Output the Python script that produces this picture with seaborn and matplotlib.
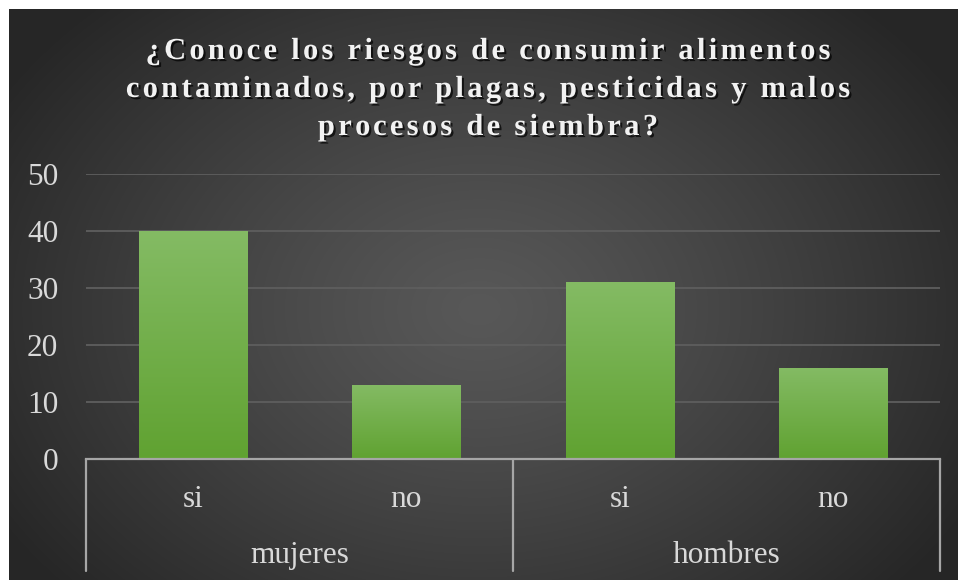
import numpy as np
import pandas as pd
import matplotlib
matplotlib.use("Agg")
import matplotlib.pyplot as plt
import matplotlib.transforms as mtransforms
import matplotlib.patheffects as pe
import seaborn as sns

# ---- data ----
groups = ["mujeres", "hombres"]
answers = ["si", "no"]
values = [40, 13, 31, 16]
yticks = [0, 10, 20, 30, 40, 50]
title_lines = ["¿Conoce los riesgos de consumir alimentos",
               "contaminados, por plagas, pesticidas y malos",
               "procesos de siembra?"]

keys = [f"{g}|{a}" for g in groups for a in answers]
df = pd.DataFrame({"key": keys, "value": values})

W, H = 958, 580
sns.set_theme(style="dark")
plt.rcParams["font.family"] = ["Liberation Serif", "DejaVu Serif"]

fig = plt.figure(figsize=(W / 100, H / 100), dpi=100)
fig.patch.set_facecolor("white")

# background radial gradient
bg = fig.add_axes([9 / W, 0, 1 - 9 / W, 1 - 9 / H])
bg.set_axis_off()
yy, xx = np.mgrid[0:571, 0:949]
cx, cy = 470, 300
r = np.sqrt(((xx - cx) / 560) ** 2 + ((yy - cy) / 420) ** 2)
r = np.clip(r, 0, 1)
c0, c1 = 0.345, 0.150
val = c0 + (c1 - c0) * r ** 1.2
img = np.dstack([val, val, val])
bg.imshow(img, aspect="auto", extent=(0, 1, 0, 1), origin="upper")
bg.set_xlim(0, 1)
bg.set_ylim(0, 1)

# main axes
left, right = 86, 940
y0px, y50px = 459, 174
ax = fig.add_axes([left / W, (H - y0px) / H, (right - left) / W, (y0px - y50px) / H])
ax.patch.set_alpha(0)

sns.barplot(data=df, x="key", y="value", ax=ax, color="#6aaa45", saturation=1,
            width=0.506, zorder=3)
ax.set_xlim(-0.5, 3.5)
ax.set_ylim(0, 50)
ax.set_yticks(yticks)
ax.set_yticklabels([str(t) for t in yticks], fontsize=22.5, color="#d9d9d9")
ax.tick_params(axis="y", length=0, pad=20)
ax.set_xticks(range(len(keys)))
ax.set_xticklabels([])
ax.tick_params(axis="x", length=0)
ax.set_xlabel("")
ax.set_ylabel("")
for s in ["top", "right", "left"]:
    ax.spines[s].set_visible(False)
ax.spines["bottom"].set_color("#a6a6a6")
ax.spines["bottom"].set_linewidth(1.6)
ax.spines["bottom"].set_zorder(5)
ax.yaxis.grid(True, color="#5e5e5e", linewidth=1.3)
ax.xaxis.grid(False)
ax.set_axisbelow(True)

# gradient fill on bars
grad = np.linspace(0, 1, 256).reshape(-1, 1)
top_c = np.array([0x84, 0xbb, 0x64]) / 255
bot_c = np.array([0x60, 0xa2, 0x31]) / 255
gimg = top_c[None, None, :] * (1 - grad[:, :, None]) + bot_c[None, None, :] * grad[:, :, None]
for p in ax.patches:
    x, y = p.get_x(), p.get_y()
    w, h = p.get_width(), p.get_height()
    p.set_edgecolor("none")
    p.set_path_effects([pe.SimplePatchShadow(offset=(0, -1), shadow_rgbFace="black", alpha=0.35), pe.Normal()])
    im = ax.imshow(gimg, extent=(x, x + w, y, y + h), aspect="auto", zorder=4, origin="upper")
    im.set_clip_path(p)
ax.set_xlim(-0.5, 3.5)
ax.set_ylim(0, 50)

# multi-level category axis
trans = mtransforms.blended_transform_factory(ax.transData, fig.transFigure)
bottom_px = 571
for xv in [-0.5, 1.5, 3.5]:
    ax.plot([xv, xv], [(H - y0px) / H, (H - bottom_px) / H], transform=trans,
            color="#a6a6a6", lw=1.6, clip_on=False, zorder=5)
for i, k in enumerate(keys):
    a = k.split("|")[1]
    ax.text(i, (H - 507) / H, a, transform=trans, ha="center", va="baseline",
            fontsize=22.5, color="#d9d9d9")
for gi, g in enumerate(groups):
    ax.text(gi * 2 + 0.5, (H - 563) / H, g, transform=trans, ha="center", va="baseline",
            fontsize=22.5, color="#d9d9d9")

# title with letter spacing
renderer = fig.canvas.get_renderer()
tsize = 22
spacing = 3.3
baselines = [59, 97, 135]
center_x = 488
fp = dict(fontsize=tsize, fontweight="bold", color="#f2f2f2")

def text_w(s):
    t = fig.text(0, 0, s + "x", **fp)
    w1 = t.get_window_extent(renderer).width
    t.remove()
    t2 = fig.text(0, 0, "x", **fp)
    w2 = t2.get_window_extent(renderer).width
    t2.remove()
    return w1 - w2

effects = [pe.SimplePatchShadow(offset=(1.5, -1.5), shadow_rgbFace="black", alpha=0.7), pe.Normal()]
for line, bl in zip(title_lines, baselines):
    total = text_w(line) + spacing * (len(line) - 1)
    x0 = center_x - total / 2
    for i, ch in enumerate(line):
        if ch == " ":
            continue
        xo = x0 + text_w(line[:i]) + spacing * i
        t = fig.text(xo / W, (H - bl) / H, ch, ha="left", va="baseline", **fp)
        t.set_path_effects(effects)

fig.savefig("out.png", dpi=100, facecolor=fig.get_facecolor())
